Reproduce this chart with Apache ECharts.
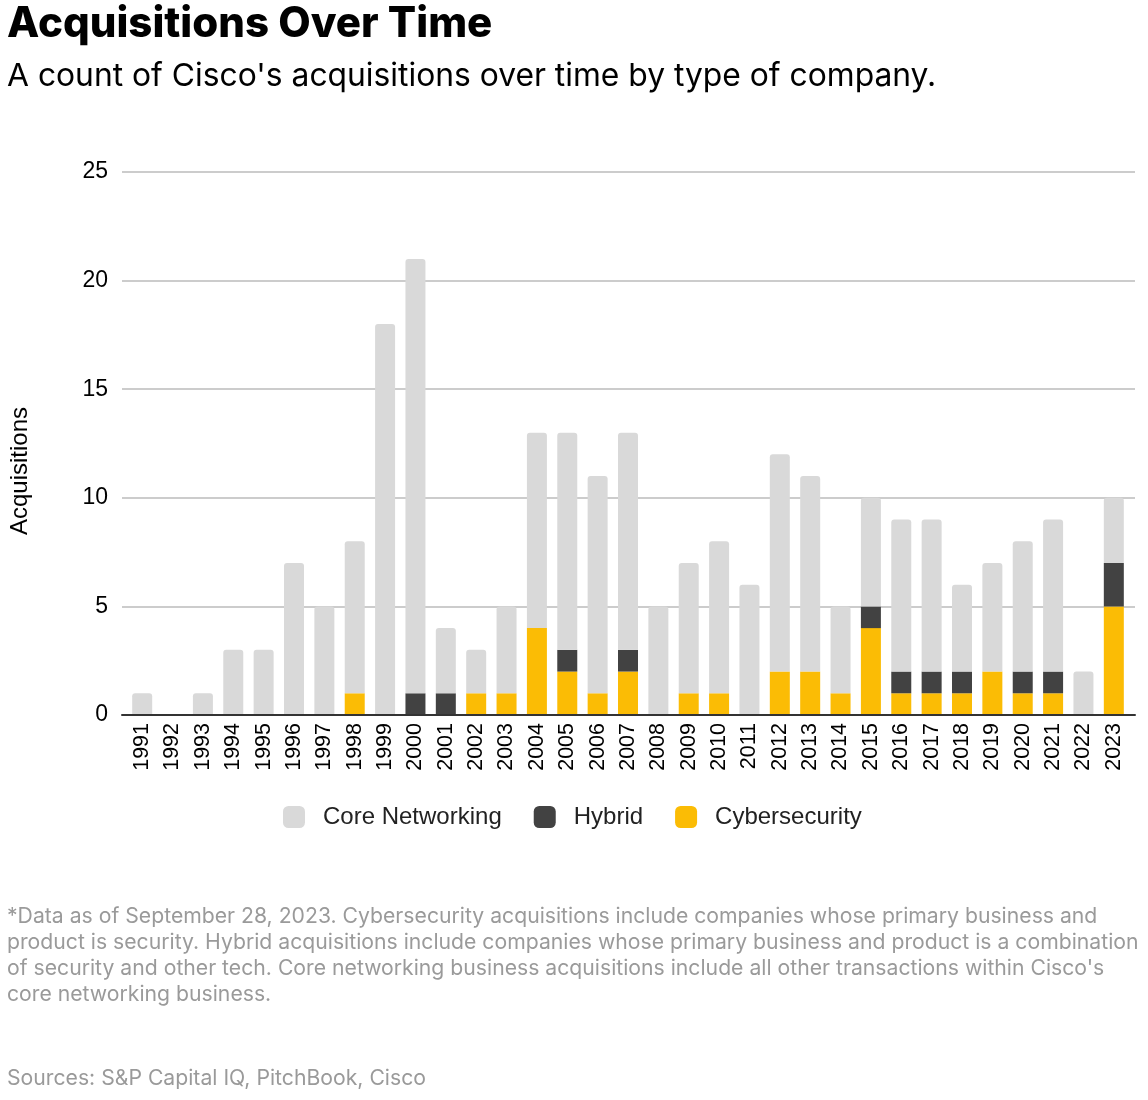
<!DOCTYPE html>
<html><head><meta charset="utf-8">
<script src="https://cdn.jsdelivr.net/npm/echarts@6/dist/echarts.min.js"></script>
<style>html,body{margin:0;padding:0;background:#fff}#c{width:1148px;height:1100px}</style>
</head><body><div id="c"></div>
<script>
const years = ["1991","1992","1993","1994","1995","1996","1997","1998","1999","2000","2001","2002","2003","2004","2005","2006","2007","2008","2009","2010","2011","2012","2013","2014","2015","2016","2017","2018","2019","2020","2021","2022","2023"];
const cybersecurity = [0,0,0,0,0,0,0,1,0,0,0,1,1,4,2,1,2,0,1,1,0,2,2,1,4,1,1,1,2,1,1,0,5];
const hybrid        = [0,0,0,0,0,0,0,0,0,1,1,0,0,0,1,0,1,0,0,0,0,0,0,0,1,1,1,1,0,1,1,0,2];
const coreNetworking= [1,0,1,3,3,7,5,7,18,20,3,2,4,9,10,10,10,5,6,7,6,10,9,4,5,7,7,4,5,6,7,2,3];
const yTicks = [0,5,10,15,20,25];

const font = "Inter, 'Noto Sans', sans-serif";
const axisFont = "'Liberation Sans', Arial, sans-serif";
const chart = echarts.init(document.getElementById('c'), null, {renderer:'canvas'});
chart.setOption({
  animation:false,
  backgroundColor:'#fff',
  title:[
    {text:'Acquisitions Over Time', left:2, top:-2, textStyle:{fontFamily:font, fontWeight:800, fontSize:42, color:'#000'}},
    {text:"A count of Cisco's acquisitions over time by type of company.", left:2, top:55, textStyle:{fontFamily:font, fontWeight:400, fontSize:31.8, color:'#000'}},
    {text:"*Data as of September 28, 2023. Cybersecurity acquisitions include companies whose primary business and\nproduct is security. Hybrid acquisitions include companies whose primary business and product is a combination\nof security and other tech. Core networking business acquisitions include all other transactions within Cisco's\ncore networking business.", left:2, top:899, textStyle:{fontFamily:font, fontWeight:400, fontSize:21.2, lineHeight:26, color:'#9a9a9a'}},
    {text:'Sources: S&P Capital IQ, PitchBook, Cisco', left:2, top:1063, textStyle:{fontFamily:font, fontWeight:400, fontSize:21.2, color:'#9a9a9a'}}
  ],
  graphic:[
    {type:'text', x:20, y:471, rotation:Math.PI/2, style:{text:'Acquisitions', font:"24px 'Liberation Sans', Arial, sans-serif", fill:'#000', textAlign:'center', textVerticalAlign:'middle'}}
  ],
  legend:{
    data:['Core Networking','Hybrid','Cybersecurity'],
    top:800, left:278, itemWidth:22, itemHeight:22, itemGap:32,
    icon:'roundRect',
    textStyle:{fontFamily:axisFont, fontSize:24, color:'#222', padding:[0,0,0,13]}
  },
  grid:[
    {left:122, right:13, top:172, bottom:385, containLabel:false},
    {left:127, right:19, top:172, bottom:385, containLabel:false}
  ],
  xAxis:[
    {type:'value', gridIndex:0, min:0, max:1, show:true,
     axisLine:{show:true, onZero:false, lineStyle:{color:'#333', width:2}},
     axisTick:{show:false}, axisLabel:{show:false}, splitLine:{show:false}, z:5},
    {type:'category', gridIndex:1, data:years,
     axisLine:{show:false},
     axisTick:{show:false},
     axisLabel:{rotate:90, fontFamily:axisFont, fontSize:21.5, color:'#000', margin:8, interval:0}}
  ],
  yAxis:[
    {type:'value', gridIndex:0, min:0, max:25, interval:5,
     axisLine:{show:false}, axisTick:{show:false},
     axisLabel:{fontFamily:axisFont, fontSize:23, color:'#000', margin:14},
     splitLine:{lineStyle:{color:'#cccccc', width:2}}},
    {type:'value', gridIndex:1, min:0, max:25, interval:5, show:false, splitLine:{show:false}}
  ],
  series:[
    {name:'Cybersecurity', type:'bar', stack:'a', xAxisIndex:1, yAxisIndex:1, data:cybersecurity, barWidth:20, itemStyle:{color:'#fbbc05'}},
    {name:'Hybrid', type:'bar', stack:'a', xAxisIndex:1, yAxisIndex:1, data:hybrid, barWidth:20, itemStyle:{color:'#424242'}},
    {name:'Core Networking', type:'bar', stack:'a', xAxisIndex:1, yAxisIndex:1, data:coreNetworking, barWidth:20, itemStyle:{color:'#d9d9d9', borderRadius:[3,3,0,0]}}
  ]
});
</script></body></html>
